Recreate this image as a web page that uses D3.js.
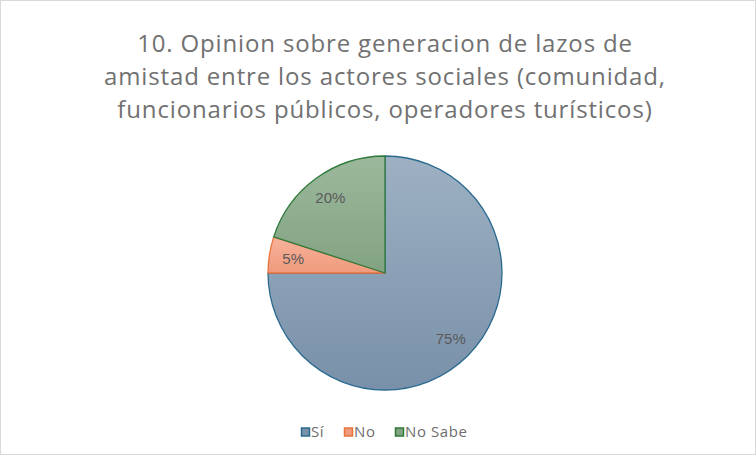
<!DOCTYPE html>
<html>
<head>
<meta charset="utf-8">
<script src="https://cdn.jsdelivr.net/npm/d3@7"></script>
<style>
  body { margin: 0; background: #fff; }
  svg { display: block; }
</style>
</head>
<body>
<script>
const categories = ["Sí", "No", "No Sabe"];
const values = [75, 5, 20];
const titleLines = [
  "10. Opinion sobre generacion de lazos de",
  "amistad entre los actores sociales (comunidad,",
  "funcionarios públicos, operadores turísticos)"
];

const w = 756, h = 455;
const cx = 385, cy = 273, r = 117;
const fills = [["#9eb1c3", "#7890a9"], ["#f6b29b", "#f09a7c"], ["#9cb89c", "#82a382"]];
const strokes = ["#2a6a8f", "#e8743b", "#2e7a3a"];
const fontFam = "'Open Sans', 'Noto Sans', sans-serif";

const svg = d3.select("body").append("svg")
  .attr("width", w)
  .attr("height", h);

svg.append("rect")
  .attr("x", 0.5).attr("y", 0.5)
  .attr("width", w - 1).attr("height", h - 1)
  .attr("fill", "#fff")
  .attr("stroke", "#d9d9d9");

const defs = svg.append("defs");
fills.forEach((f, i) => {
  const g = defs.append("linearGradient")
    .attr("id", "grad" + i)
    .attr("x1", 0).attr("y1", 0).attr("x2", 0).attr("y2", 1);
  g.append("stop").attr("offset", "0%").attr("stop-color", f[0]);
  g.append("stop").attr("offset", "100%").attr("stop-color", f[1]);
});

svg.append("g")
  .selectAll("text")
  .data(titleLines)
  .enter().append("text")
  .attr("x", cx)
  .attr("y", (d, i) => 52 + i * 33)
  .attr("text-anchor", "middle")
  .style("font-family", fontFam)
  .style("font-size", "24px")
  .style("letter-spacing", "0.85px")
  .style("fill", "#717171")
  .text(d => d);

const pie = d3.pie().sort(null).value(d => d);
const arcs = pie(values);
const arc = d3.arc().innerRadius(0).outerRadius(r);
const labelArc = d3.arc().innerRadius(93).outerRadius(93);

const g = svg.append("g").attr("transform", "translate(" + cx + "," + cy + ")");

g.selectAll("path")
  .data(arcs)
  .enter().append("path")
  .attr("d", arc)
  .attr("fill", (d, i) => "url(#grad" + i + ")")
  .attr("stroke", (d, i) => strokes[i])
  .attr("stroke-width", 1.3)
  .attr("stroke-linejoin", "round");

g.selectAll(".lbl")
  .data(arcs)
  .enter().append("text")
  .attr("class", "lbl")
  .attr("transform", d => "translate(" + labelArc.centroid(d) + ")")
  .attr("text-anchor", "middle")
  .attr("dy", "0.35em")
  .style("font-family", "'Liberation Sans', Arial, sans-serif")
  .style("font-size", "15px")
  .style("fill", "#5a5a5a")
  .text(d => d.data + "%");

const legendX = [301, 344, 395];
const legend = svg.append("g")
  .selectAll("g")
  .data(categories)
  .enter().append("g")
  .attr("transform", (d, i) => "translate(" + legendX[i] + ",432)");

legend.append("rect")
  .attr("x", 0.5).attr("y", -4)
  .attr("width", 8).attr("height", 8)
  .attr("fill", (d, i) => fills[i][1])
  .attr("stroke", (d, i) => strokes[i])
  .attr("stroke-width", 1.5);

legend.append("text")
  .attr("x", 10)
  .attr("y", 0)
  .attr("dy", "0.36em")
  .style("font-family", fontFam)
  .style("font-size", "15px")
  .style("letter-spacing", "0.6px")
  .style("fill", "#6e6e6e")
  .text(d => d);
</script>
</body>
</html>
